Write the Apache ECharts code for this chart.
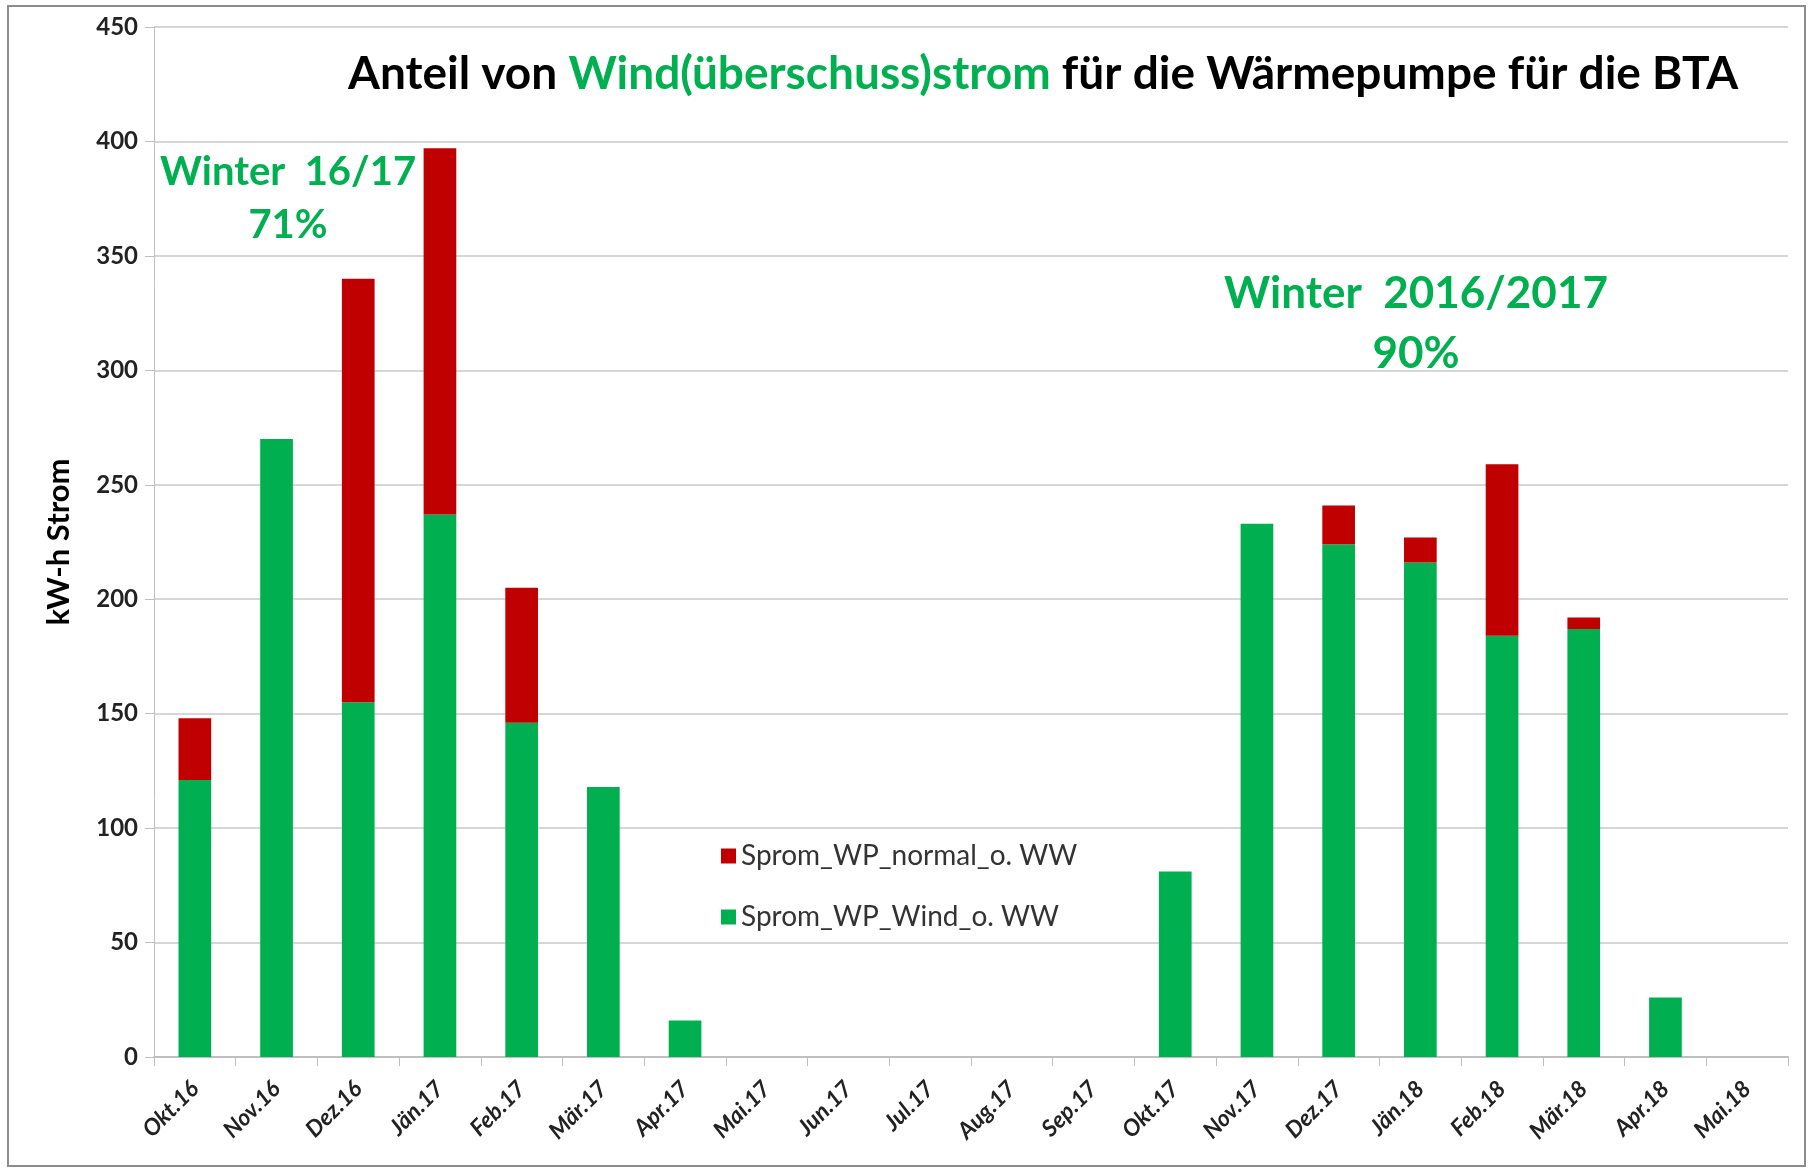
<!DOCTYPE html>
<html>
<head>
<meta charset="utf-8">
<script src="https://cdn.jsdelivr.net/npm/echarts@6/dist/echarts.min.js"></script>
<style>
  html, body { margin: 0; padding: 0; background: #fff; }
  #chart { width: 1814px; height: 1172px; }
</style>
</head>
<body>
<div id="chart"></div>
<script>
const months = ['Okt.16', 'Nov.16', 'Dez.16', 'Jän.17', 'Feb.17', 'Mär.17', 'Apr.17', 'Mai.17', 'Jun.17', 'Jul.17',
  'Aug.17', 'Sep.17', 'Okt.17', 'Nov.17', 'Dez.17', 'Jän.18', 'Feb.18', 'Mär.18', 'Apr.18', 'Mai.18'];
const windStrom = [121, 270, 155, 237, 146, 118, 16, 0, 0, 0, 0, 0, 81, 233, 224, 216, 184, 187, 26, 0];
const normalStrom = [27, 0, 185, 160, 59, 0, 0, 0, 0, 0, 0, 0, 0, 0, 17, 11, 75, 5, 0, 0];
const yTicks = { min: 0, max: 450, interval: 50 };

const GREEN = '#00b050';
const RED = '#c00000';
const FONT = 'Lato, "Open Sans", sans-serif';

const chart = echarts.init(document.getElementById('chart'));

// green annotation text, centred on (x, y)
const note = (txt, x, y, size) => ({
  type: 'text',
  x,
  y,
  silent: true,
  style: {
    text: txt,
    textAlign: 'center',
    textVerticalAlign: 'middle',
    fill: GREEN,
    font: `bold ${size}px ${FONT}`,
  },
});

const opts = {
  backgroundColor: '#fff',
  animation: false,
  textStyle: { fontFamily: FONT },
  title: {
    text: '{k|Anteil von }{g|Wind(überschuss)strom}{k| für die Wärmepumpe für die BTA}',
    left: 343,
    top: 46,
    textStyle: {
      rich: {
        k: { fontFamily: FONT, fontSize: 46, fontWeight: 'bold', color: '#000' },
        g: { fontFamily: FONT, fontSize: 46, fontWeight: 'bold', color: GREEN },
      },
    },
  },
  legend: {
    orient: 'vertical',
    left: 716,
    top: 837,
    itemWidth: 15,
    itemHeight: 15,
    itemGap: 33,
    icon: 'rect',
    data: ['Sprom_WP_normal_o. WW', 'Sprom_WP_Wind_o. WW'],
    textStyle: { fontFamily: FONT, fontSize: 28, color: '#333' },
  },
  grid: { left: 154, right: 26, top: 27, bottom: 115 },
  xAxis: {
    type: 'category',
    data: months,
    axisLine: { lineStyle: { color: '#bfbfbf', width: 2 } },
    axisTick: { show: true, length: 9, lineStyle: { color: '#bfbfbf' } },
    axisLabel: {
      interval: 0,
      rotate: 45,
      margin: 28,
      fontFamily: FONT,
      fontSize: 23,
      fontWeight: 'bold',
      fontStyle: 'italic',
      color: '#222',
    },
  },
  yAxis: {
    type: 'value',
    min: yTicks.min,
    max: yTicks.max,
    interval: yTicks.interval,
    name: 'kW-h Strom',
    nameLocation: 'middle',
    nameGap: 80,
    nameTextStyle: { fontFamily: FONT, fontSize: 31, fontWeight: 'bold', color: '#000' },
    axisLine: { show: true, lineStyle: { color: '#bfbfbf' } },
    axisTick: { show: true, length: 9, lineStyle: { color: '#bfbfbf' } },
    splitLine: { lineStyle: { color: '#c8c8c8', width: 1.5 } },
    axisLabel: { fontFamily: FONT, fontSize: 24, fontWeight: 'bold', color: '#222', margin: 16 },
  },
  series: [
    {
      name: 'Sprom_WP_Wind_o. WW',
      type: 'bar',
      stack: 'strom',
      data: windStrom,
      barWidth: '40%',
      itemStyle: { color: GREEN },
    },
    {
      name: 'Sprom_WP_normal_o. WW',
      type: 'bar',
      stack: 'strom',
      data: normalStrom,
      barWidth: '40%',
      itemStyle: { color: RED },
    },
  ],
  graphic: [
    {
      type: 'rect',
      shape: { x: 8, y: 6, width: 1797, height: 1160 },
      style: { fill: 'none', stroke: '#8c8c8c', lineWidth: 2 },
      silent: true,
    },
    note('Winter  16/17', 288, 172, 40),
    note('71%', 288, 225, 40),
    note('Winter  2016/2017', 1416, 294, 44),
    note('90%', 1416, 354, 44),
  ],
};

chart.setOption(opts);
</script>
</body>
</html>
